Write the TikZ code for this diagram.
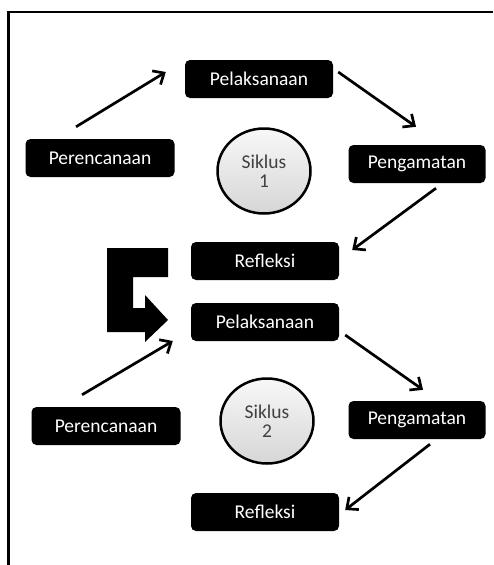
\documentclass[tikz,border=0pt]{standalone}
\usepackage{fontspec}
\setmainfont{Carlito}
\usetikzlibrary{arrows.meta,shapes.geometric}

\tikzset{
  kotak/.style={fill=black, text=white, rounded corners=5pt, minimum height=38pt, inner sep=0pt, font=\fontsize{19.5}{22}\selectfont},
  siklus/.style={ellipse, draw=black, line width=2.5pt, top color=gray!6, bottom color=gray!32, text=black!75, align=center, inner sep=0pt, minimum width=93pt, minimum height=85pt, font=\fontsize{19.5}{19}\selectfont},
  panah/.style={line width=2.7pt, -{Straight Barb[length=9pt,width=16pt]}}
}

\begin{document}
\begin{tikzpicture}[x=1pt, y=-1pt]
\useasboundingbox (0,0) rectangle (493,565);
%frame
	\draw[line width=2.6pt] (8.7,565) -- (8.7,12) -- (493,12);

%boxes
	\foreach \xy/\name/\w/\txt in { {(259,79)/pel1/148/Pelaksanaan},{(100,158)/per1/149/Perencanaan},{(417,164)/pen1/137/Pengamatan},{(265,261)/ref1/148/Refleksi},
	{(265,322)/pel2/148/Pelaksanaan},{(106,426)/per2/149/Perencanaan},{(417,420)/pen2/137/Pengamatan},{(265,512)/ref2/148/Refleksi}} {
		\node[kotak, minimum width=\w pt] (\name) at \xy {\txt};
	}

%siklus
	\node[siklus] (sik1) at (264,171) {Siklus\\1};
	\node[siklus] (sik2) at (267,421) {Siklus\\2};

%bent arrow
	\fill (107,248) -- (168,248) -- (168,277) -- (133,277) -- (133,308) -- (145,308) -- (145,295) -- (168,320) -- (145,342) -- (145,332) -- (107,332) -- cycle;

%arrows 1
	\draw[panah] ([shift={(-24,-12)}]per1.north) -- ([shift={(-19,-7)}]pel1.west);
	\draw[panah] ([shift={(5,-7)}]pel1.east) -- ([shift={(-1,-18)}]pen1.north);
	\draw[panah] ([shift={(19,5)}]pen1.south) -- ([shift={(13,-11)}]ref1.east);

%arrows 2
	\draw[panah] ([shift={(-24,-12)}]per2.north) -- ([shift={(-18,19)}]pel2.west);
	\draw[panah] ([shift={(6,13)}]pel2.east) -- ([shift={(6,-11)}]pen2.north);
	\draw[panah] ([shift={(13,5)}]pen2.south) -- ([shift={(6,-2)}]ref2.east);

\end{tikzpicture}
\end{document}
